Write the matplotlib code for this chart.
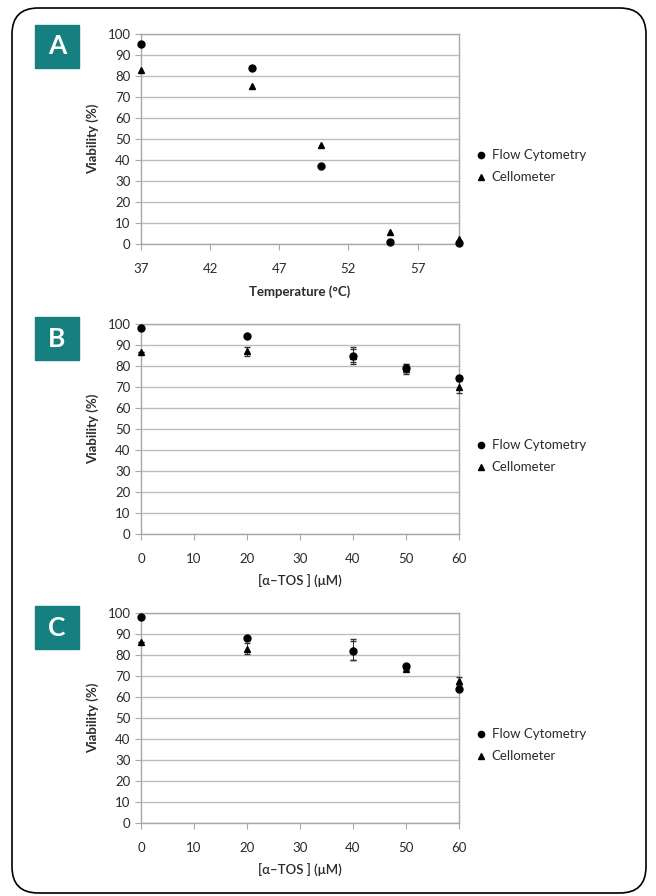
"""Viability vs temperature and alpha-TOS, flow cytometry vs Cellometer."""
import matplotlib
matplotlib.use("Agg")
import matplotlib.pyplot as plt
from matplotlib.lines import Line2D
from matplotlib.patches import FancyBboxPatch, Rectangle

plt.rcParams["font.family"] = ["Lato", "DejaVu Sans"]

# panel A: temperature
temp = [37, 45, 50, 55, 60]
temp_flow = [95, 84, 37, 1, 0.5]
temp_cello = [83, 75, 47, 5.5, 2.5]

# panel B: alpha-TOS, first cell line
tos = [0, 20, 40, 50, 60]
b_flow = [98, 94.5, 85, 79, 74.5]
b_flow_err = [0, 0, 3, 2, 0]
b_cello = [86.5, 87, 85, 78.5, 70]
b_cello_err = [0, 2, 4, 2.5, 3]

# panel C: alpha-TOS, second cell line
c_flow = [98, 88, 82, 75, 64]
c_flow_err = [0, 0, 4.5, 0, 0]
c_cello = [86, 83, 82.5, 73.5, 67.5]
c_cello_err = [0, 2.5, 5, 0, 2]

TEAL = "#15807f"
GRID = "#bdbdbd"
TXT = "#2b2b2b"

W, H = 656, 896
fig = plt.figure(figsize=(W / 100, H / 100), dpi=100)

# rounded outer frame
frame = FancyBboxPatch((12 / W, 3 / H), 634 / W, 885 / H,
                       boxstyle="round,pad=0,rounding_size=0.04",
                       transform=fig.transFigure, fill=False,
                       edgecolor="black", linewidth=1.2, mutation_aspect=W / H)
fig.patches.append(frame)


def px_axes(top, bottom, left=141, right=459):
    return fig.add_axes([left / W, 1 - bottom / H, (right - left) / W,
                         (bottom - top) / H])


def style(ax, xlabel, xticks, xlim, label_weight):
    ax.set_ylim(0, 100)
    ax.set_yticks(range(0, 101, 10))
    ax.set_xlim(*xlim)
    ax.set_xticks(xticks)
    ax.grid(axis="y", color=GRID, linewidth=1)
    ax.set_axisbelow(True)
    for s in ax.spines.values():
        s.set_color("#a8a8a8")
        s.set_linewidth(1)
    ax.tick_params(colors="#a8a8a8", labelcolor=TXT, labelsize=9.5,
                   length=4, width=0.8)
    ax.tick_params(axis="x", pad=10)
    ax.set_ylabel("Viability (%)", fontsize=9.5, fontweight="bold",
                  color=TXT, labelpad=6)
    ax.set_xlabel(xlabel, fontsize=9.5, fontweight=label_weight, color=TXT,
                  labelpad=7)


def plot_pair(ax, x, flow, cello, flow_err=None, cello_err=None):
    ax.errorbar(x, cello, yerr=cello_err, fmt="^", color="black", ms=4.5,
                elinewidth=0.7, capsize=2, ecolor="#333333",
                clip_on=False, zorder=3)
    ax.errorbar(x, flow, yerr=flow_err, fmt="o", color="black", ms=5,
                elinewidth=0.7, capsize=2, ecolor="#333333",
                clip_on=False, zorder=4)
    handles = [Line2D([], [], ls="none", marker="o", color="black", ms=4.5),
               Line2D([], [], ls="none", marker="^", color="black", ms=4)]
    ax.legend(handles, ["Flow Cytometry", "Cellometer"], loc="center left",
              bbox_to_anchor=(1.02, 0.37), frameon=False, fontsize=9.5,
              handlelength=0.6, handletextpad=0.5, labelspacing=0.75,
              labelcolor=TXT)


def panel_label(letter, top):
    fig.patches.append(Rectangle((35 / W, 1 - (top + 43) / H), 44 / W, 43 / H,
                                 transform=fig.transFigure, color=TEAL))
    fig.text(57 / W, 1 - (top + 21.5) / H, letter, color="white",
             fontsize=19, fontweight="bold", ha="center", va="center")


axA = px_axes(34, 244)
plot_pair(axA, temp, temp_flow, temp_cello)
style(axA, "Temperature (°C)", range(37, 58, 5), (37, 60), "bold")
panel_label("A", 25)

axB = px_axes(324, 534)
plot_pair(axB, tos, b_flow, b_cello, b_flow_err, b_cello_err)
style(axB, "[α–TOS ] (μM)", range(0, 61, 10), (0, 60), "semibold")
panel_label("B", 317)

axC = px_axes(613, 823)
plot_pair(axC, tos, c_flow, c_cello, c_flow_err, c_cello_err)
style(axC, "[α–TOS ] (μM)", range(0, 61, 10), (0, 60), "semibold")
panel_label("C", 606)

fig.savefig("out.png", dpi=100)
